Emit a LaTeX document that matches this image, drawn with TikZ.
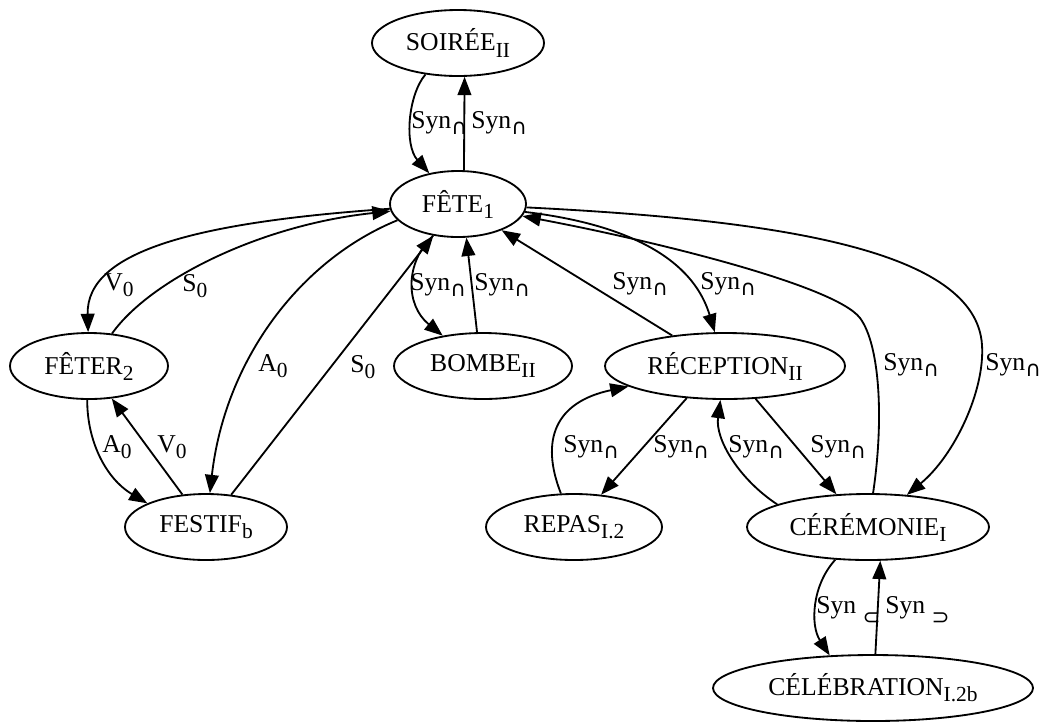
\documentclass[tikz,border=0pt]{standalone}
\usepackage{fontspec}
\setmainfont{Liberation Serif}
\newfontfamily\dejavu{DejaVu Sans}
\usetikzlibrary{shapes.geometric,arrows.meta}
\newcommand\sbs[1]{\raisebox{-3.3pt}{\fontsize{11.7}{12}\selectfont #1}}
\newcommand\syncap{Syn\sbs{\dejavu ∩}}
\newcommand\synincl[1]{Syn \raisebox{-6.5pt}{\fontsize{11.7}{12}\selectfont\dejavu #1}}
\begin{document}
\begin{tikzpicture}[x=0.5455pt,y=-0.5455pt,
    lex/.style={draw,ellipse,line width=1pt,inner sep=0pt,minimum height=36pt,
      font=\fontsize{14}{16}\selectfont},
    wd/.style={minimum width=#1*0.5455pt},
    rel/.style={line width=1pt,-{Triangle[length=10pt,width=7.5pt]}},
    lab/.style={anchor=base west,inner sep=0pt,font=\fontsize{14}{16}\selectfont}]
  \useasboundingbox (0,0) rectangle (1040,721);

  % senses
  \node[lex,wd=172] (soiree)    at (458,43)  {SOIRÉE\sbs{II}};
  \node[lex,wd=136] (fete)      at (458,204) {FÊTE\sbs{1}};
  \node[lex,wd=158] (feter)     at (89,366)  {FÊTER\sbs{2}};
  \node[lex,wd=178] (bombe)     at (483,366) {BOMBE\sbs{II}};
  \node[lex,wd=240] (recep)     at (725,366) {RÉCEPTION\sbs{II}};
  \node[lex,wd=162] (festif)    at (206,527) {FESTIF\sbs{b}};
  \node[lex,wd=176] (repas)     at (574,527) {REPAS\sbs{I.2}};
  \node[lex,wd=242] (ceremonie) at (868,527) {CÉRÉMONIE\sbs{I}};
  \node[lex,wd=320] (celeb)     at (873,688) {CÉLÉBRATION\sbs{I.2b}};

  % links
  \draw[rel] (fete.80) -- (soiree.-79);
  \draw[rel] (soiree.-136) .. controls (408,95) and (404,145) .. (fete.133);
  \draw[rel] (fete) .. controls (200,222) and (86,250) .. (feter);
  \draw[rel] (feter) .. controls (150,280) and (260,225) .. (fete);
  \draw[rel] (fete.-165) .. controls (300,260) and (225,360) .. (festif);
  \draw[rel] (festif) -- (fete);
  \draw[rel] (feter.-93) .. controls (87,440) and (105,478) .. (festif.158);
  \draw[rel] (festif.126) -- (feter.-55);
  \draw[rel] (fete.-128) .. controls (405,262) and (405,305) .. (bombe.143);
  \draw[rel] (bombe.100) -- (fete.-76);
  \draw[rel] (recep.150) -- (fete.-31);
  \draw[rel] (fete) .. controls (610,222) and (690,250) .. (recep);
  \draw[rel] (ceremonie) .. controls (884,420) and (880,345) .. (860,318)
    .. controls (835,285) and (650,240) .. (fete);
  \draw[rel] (fete) .. controls (780,220) and (976,250) .. (982,345)
    .. controls (985,390) and (955,455) .. (ceremonie);
  \draw[rel] (repas) .. controls (540,440) and (555,402) .. (recep);
  \draw[rel] (recep.-140) -- (repas.50);
  \draw[rel] (ceremonie.166) .. controls (740,480) and (715,440) .. (recep);
  \draw[rel] (recep.-47) -- (ceremonie.134);
  \draw[rel] (ceremonie.-135) .. controls (812,585) and (810,625) .. (celeb.143);
  \draw[rel] (celeb.86) -- (ceremonie.-70);

  % labels
  \node[lab] (l1)  at (411,128) {\syncap};
  \node[lab] (l2)  at (471,128) {\syncap};
  \node[lab] (l3)  at (104,290) {V\sbs{0}};
  \node[lab] (l4)  at (182,291) {S\sbs{0}};
  \node[lab] (l5)  at (258,371) {A\sbs{0}};
  \node[lab] (l6)  at (350,372) {S\sbs{0}};
  \node[lab] (l7)  at (102,452) {A\sbs{0}};
  \node[lab] (l8)  at (157,452) {V\sbs{0}};
  \node[lab] (l9)  at (410,290) {\syncap};
  \node[lab] (l10) at (474,290) {\syncap};
  \node[lab] (l11) at (612,289) {\syncap};
  \node[lab] (l12) at (700,289) {\syncap};
  \node[lab] (l13) at (883,370) {\syncap};
  \node[lab] (l14) at (985,370) {\syncap};
  \node[lab] (l15) at (563,452) {\syncap};
  \node[lab] (l16) at (653,452) {\syncap};
  \node[lab] (l17) at (728,452) {\syncap};
  \node[lab] (l18) at (810,452) {\syncap};
  \node[lab] (l19) at (816,613) {\synincl{⊂}};
  \node[lab] (l20) at (885,613) {\synincl{⊃}};
\end{tikzpicture}
\end{document}
